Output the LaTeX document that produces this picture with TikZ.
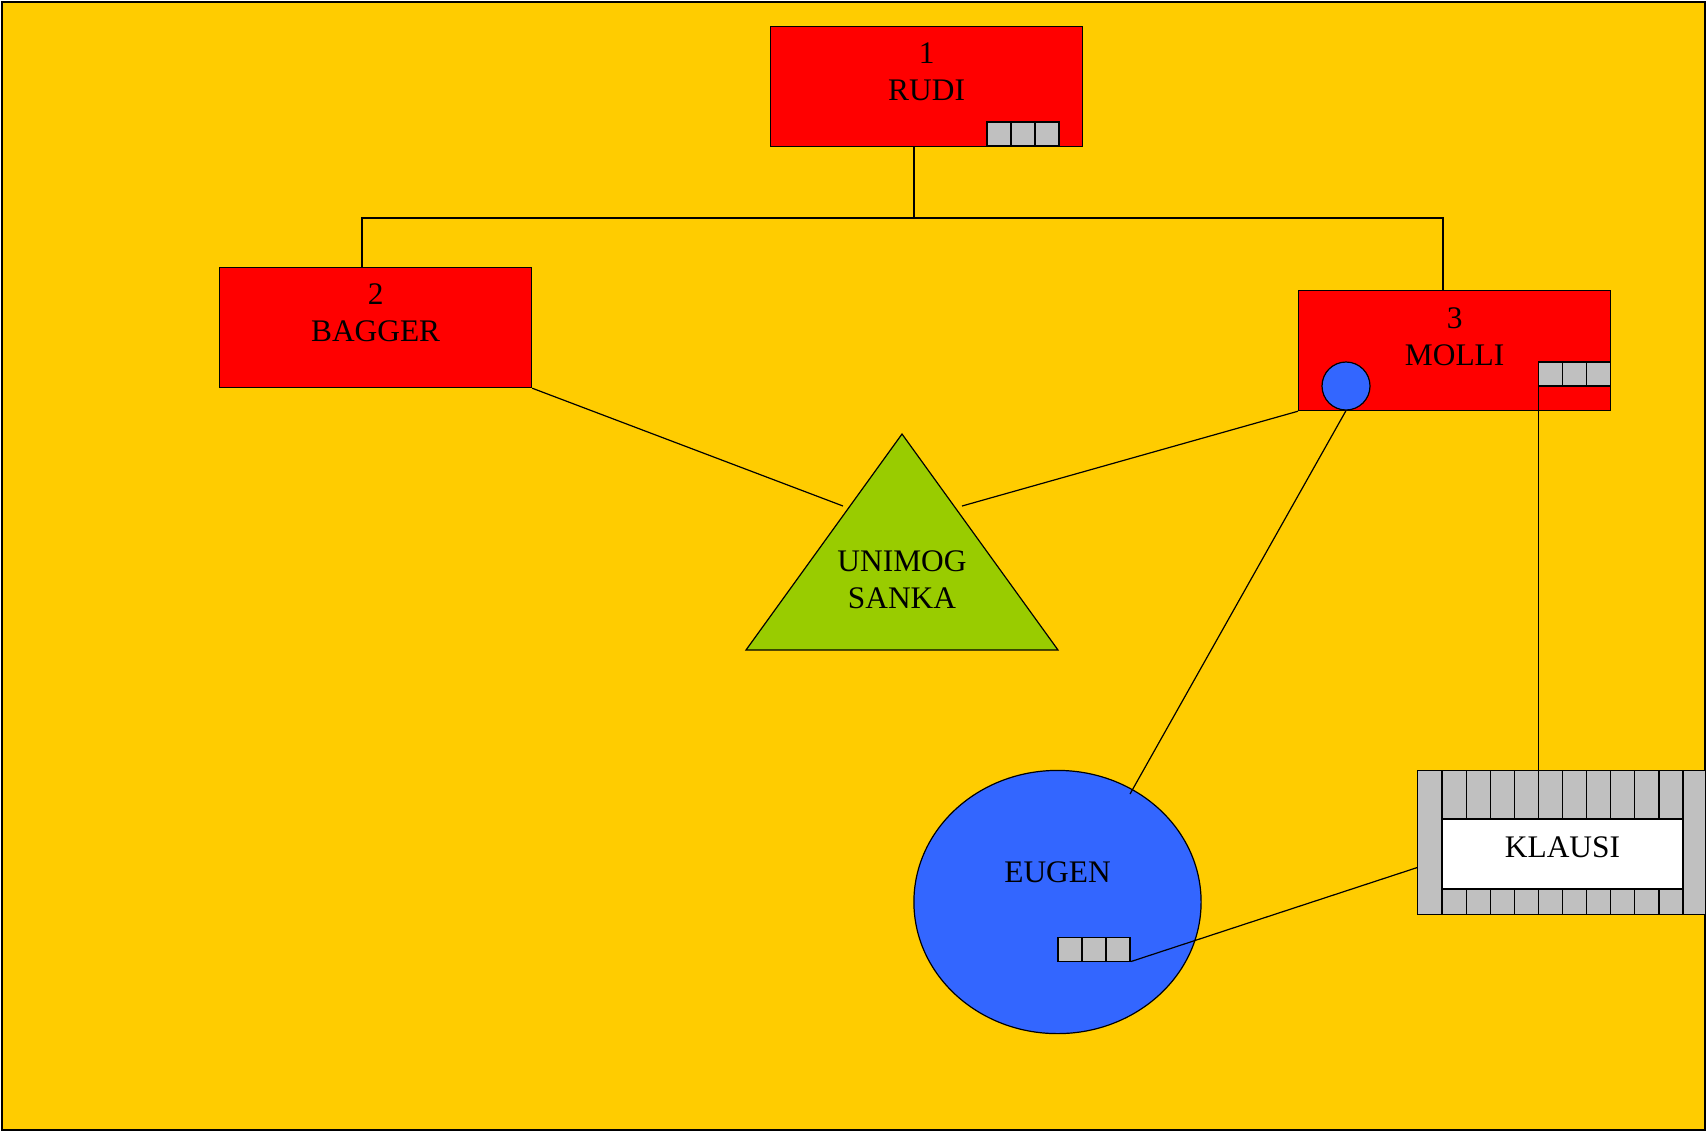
\documentclass[tikz,border=0pt]{standalone}
\usepackage{fontspec}
\setmainfont{Liberation Serif}
\usetikzlibrary{calc,shapes.geometric}
\definecolor{bgyellow}{HTML}{FFCC00}
\definecolor{boxred}{HTML}{FF0000}
\definecolor{cellgray}{HTML}{C0C0C0}
\definecolor{ballblue}{HTML}{3366FF}
\definecolor{trigreen}{HTML}{99CC00}
\newcommand\cellrow[3]{\foreach \i in {1,...,#3} \draw[fill=cellgray] ({#1+(\i-1)*24},#2) rectangle +(24,24);}
\begin{document}
\begin{tikzpicture}[x=0.5pt,y=-0.5pt,line width=0.6pt,
  redbox/.style={draw=black,fill=boxred,anchor=north west,inner sep=0pt,minimum width=156pt,minimum height=60pt},
  lbl/.style={align=center,inner sep=0pt,font=\fontsize{15.7}{18.5}\selectfont},
  conn/.style={draw=black,line width=0.6pt}]
\useasboundingbox (0,0) rectangle (1706,1131);
\draw[fill=bgyellow] (2,2) rectangle (1705,1130);

% boxes
\node[redbox] (rudi) at (770,26) {};
\node[redbox] (bagger) at (219,267) {};
\node[redbox] (molli) at (1298,290) {};
\node[lbl] (rudiT) at ($(rudi.center)+(0,-14.5)$) {1\\RUDI};
\node[lbl] (baggerT) at ($(bagger.center)+(0,-15)$) {2\\BAGGER};
\node[lbl] (molliT) at ($(molli.center)+(0,-14)$) {3\\MOLLI};
\cellrow{987}{122}{3}
\cellrow{1538.5}{362}{3}
\node[draw=black,fill=ballblue,circle,inner sep=0pt,minimum size=24pt] (mc) at (1346,386) {};

% triangle
\coordinate (triTop) at (902,434);
\coordinate (triL) at (746,650);
\coordinate (triR) at (1058,650);
\draw[fill=trigreen] (triTop) -- (triL) -- (triR) -- cycle;
\node[lbl] (triT) at (902,579.5) {UNIMOG\\SANKA};

% eugen
\node[draw=black,fill=ballblue,ellipse,inner sep=0pt,minimum width=143.6pt,minimum height=131.6pt] (eugen) at (1057.5,902) {};
\node[lbl] (eugenT) at (1057.5,872.6) {EUGEN};
\cellrow{1058}{937.5}{3}

% klausi
\node[draw=black,fill=cellgray,anchor=north west,inner sep=0pt,minimum width=144pt,minimum height=72pt] (klausi) at (1417,770) {};
\foreach \k in {0,...,10} {
  \draw ({1442+\k*24.1},770) -- ({1442+\k*24.1},819);
  \draw ({1442+\k*24.1},889) -- ({1442+\k*24.1},914);
}
\node[draw=black,fill=white,inner sep=0pt,minimum width=120.5pt,minimum height=35pt,lbl,text depth=7pt] (klausiT) at (1562.5,854) {KLAUSI};

% connectors
\coordinate (junc) at (914,218);
\draw[conn] ($(rudi.south west)+(144,0)$) -- (junc);
\draw[conn] (junc) -| ($(bagger.north west)+(143,0)$);
\draw[conn] (junc) -| ($(molli.north west)+(145,0)$);
\coordinate (tA) at (843,506);
\coordinate (tB) at (962,506);
\draw[conn] (bagger.south east) -- (tA);
\draw[conn] (molli.south west) -- (tB);
\coordinate (eA) at (1130,794);
\draw[conn] (mc.south) -- (eA);
\coordinate (mcell) at (1538.5,386);
\draw[conn] (mcell) -- (mcell |- klausi.north);
\coordinate (ecell) at (1131,961.5);
\draw[conn] (ecell) -- ($(klausi.west)+(0,25)$);
\end{tikzpicture}
\end{document}
